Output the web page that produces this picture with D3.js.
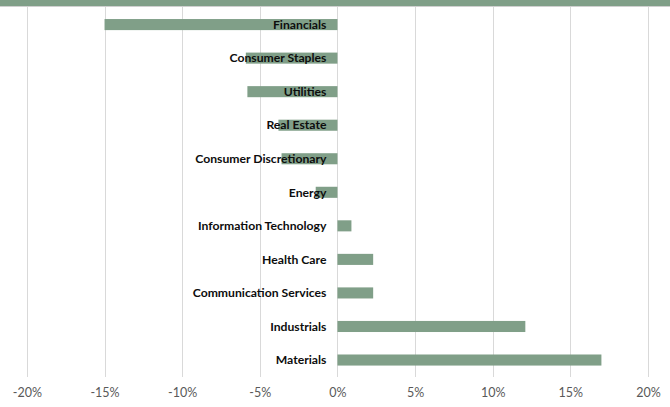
<!DOCTYPE html>
<html>
<head>
<meta charset="utf-8">
<script src="https://cdn.jsdelivr.net/npm/d3@7"></script>
<style>
  body { margin: 0; background: #fff; }
  svg { display: block; }
  .grid line { stroke: #d9d9d9; stroke-width: 1; }
  .axis text { font-family: Lato, "Open Sans", sans-serif; font-size: 12.5px; fill: #595959; }
</style>
</head>
<body>
<div id="chart"></div>
<script>
const sectors = ["Financials", "Consumer Staples", "Utilities", "Real Estate", "Consumer Discretionary",
  "Energy", "Information Technology", "Health Care", "Communication Services", "Industrials", "Materials"];
const returns = [-15.0, -5.9, -5.8, -3.8, -3.6, -1.4, 0.9, 2.3, 2.3, 12.1, 17.0];
const xTicks = [-20, -15, -10, -5, 0, 5, 10, 15, 20];

const width = 670, height = 407;
const barColor = "#809f88";

const svg = d3.select("#chart").append("svg")
  .attr("width", width)
  .attr("height", height);

// green band across the top
svg.append("rect")
  .attr("x", 0).attr("y", 0)
  .attr("width", width).attr("height", 6)
  .attr("fill", barColor);
svg.append("line")
  .attr("x1", 0).attr("x2", width)
  .attr("y1", 6.5).attr("y2", 6.5)
  .attr("stroke", "#d0d0d0");

const x = d3.scaleLinear().domain([-20, 20]).range([26.9, 648]);
const y = d3.scaleBand().domain(sectors).range([7.8, 376.8])
  .paddingInner(0.67).paddingOuter(0.335);

// vertical gridlines
svg.append("g")
  .attr("class", "grid")
  .selectAll("line")
  .data(xTicks)
  .join("line")
  .attr("x1", d => Math.round(x(d)) + 0.5)
  .attr("x2", d => Math.round(x(d)) + 0.5)
  .attr("y1", 7)
  .attr("y2", 377);

// bars
svg.append("g")
  .selectAll("rect")
  .data(sectors)
  .join("rect")
  .attr("x", (d, i) => x(Math.min(0, returns[i])))
  .attr("y", d => y(d))
  .attr("width", (d, i) => Math.abs(x(returns[i]) - x(0)))
  .attr("height", y.bandwidth())
  .attr("fill", barColor);

// category labels, right-aligned left of zero line
svg.append("g")
  .selectAll("text")
  .data(sectors)
  .join("text")
  .attr("x", x(0) - 11)
  .attr("y", d => y(d) + y.bandwidth() / 2)
  .attr("dy", "0.35em")
  .attr("text-anchor", "end")
  .style("font-family", "Lato, 'Open Sans', sans-serif")
  .style("font-size", "12.2px")
  .style("font-weight", "bold")
  .style("fill", "#0d0d0d")
  .text(d => d);

// x axis labels (no domain line, no ticks)
const xAxis = d3.axisBottom(x)
  .tickValues(xTicks)
  .tickSize(0)
  .tickPadding(0)
  .tickFormat(d => d + "%");

svg.append("g")
  .attr("class", "axis")
  .attr("transform", "translate(0,388)")
  .call(xAxis)
  .call(g => g.select(".domain").remove());
</script>
</body>
</html>
